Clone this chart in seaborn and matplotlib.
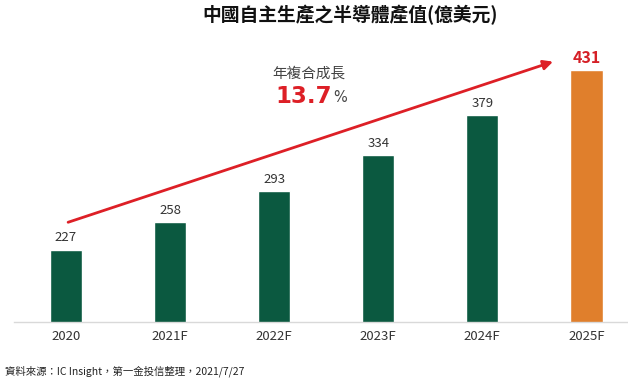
import matplotlib
matplotlib.use("Agg")
import matplotlib.pyplot as plt
import seaborn as sns
import pandas as pd

# values (億美元)
years = ["2020", "2021F", "2022F", "2023F", "2024F", "2025F"]
values = [227, 258, 293, 334, 379, 431]
bar_colors = ["#0b5940", "#0b5940", "#0b5940", "#0b5940", "#0b5940", "#e07f2c"]
cagr_label = "13.7"

sns.set_theme(style="white")
plt.rcParams["font.family"] = ["Noto Sans CJK TC", "DejaVu Sans"]

df = pd.DataFrame({"year": years, "value": values})

fig = plt.figure(figsize=(6.28, 3.85), dpi=100)
ax = fig.add_axes([14 / 628, 63 / 385, 614 / 628, 278 / 385])

sns.barplot(data=df, x="year", y="value", hue="year", palette=bar_colors,
            width=0.31, legend=False, ax=ax, saturation=1)

ax.set_ylim(145, 460)
ax.set_xlim(-0.5, 5.4)

# value labels
for i, v in enumerate(values):
    if i == len(values) - 1:
        ax.text(i, v + 4, str(v), ha="center", va="bottom", fontsize=11.5,
                fontweight="bold", color="#d52027")
    else:
        ax.text(i, v + 6, str(v), ha="center", va="bottom", fontsize=9.5,
                color="#333333")

# growth arrow
ax.annotate("", xy=(4.68, 440), xytext=(0.02, 258),
            arrowprops=dict(arrowstyle="-|>", color="#dd1f26", lw=2.0,
                            mutation_scale=14, shrinkA=0, shrinkB=0))

ax.text(2.33, 427, "年複合成長", ha="center", va="center", fontsize=10.5,
        color="#444444")
ax.text(2.28, 400, cagr_label, ha="center", va="center", fontsize=16.5,
        fontweight="bold", color="#dd1f26", family="DejaVu Sans")
ax.text(2.63, 399, "%", ha="center", va="center", fontsize=10.5,
        color="#444444", family="DejaVu Sans")

ax.set_xlabel("")
ax.set_ylabel("")
ax.set_yticks([])
ax.tick_params(axis="x", length=0, pad=6, labelsize=9.5, labelcolor="#333333")
for s in ["top", "right", "left"]:
    ax.spines[s].set_visible(False)
ax.spines["bottom"].set_color("#d9d9d9")
ax.spines["bottom"].set_linewidth(1)

fig.text(350 / 628, 1 - 15 / 385, "中國自主生產之半導體產值(億美元)", ha="center",
         va="center", fontsize=13.5, fontweight="bold", color="#111111")
fig.text(5 / 628, 1 - 371 / 385, "資料來源：IC Insight，第一金投信整理，2021/7/27",
         ha="left", va="center", fontsize=7.5, color="#222222")

fig.savefig("out.png", dpi=100)
